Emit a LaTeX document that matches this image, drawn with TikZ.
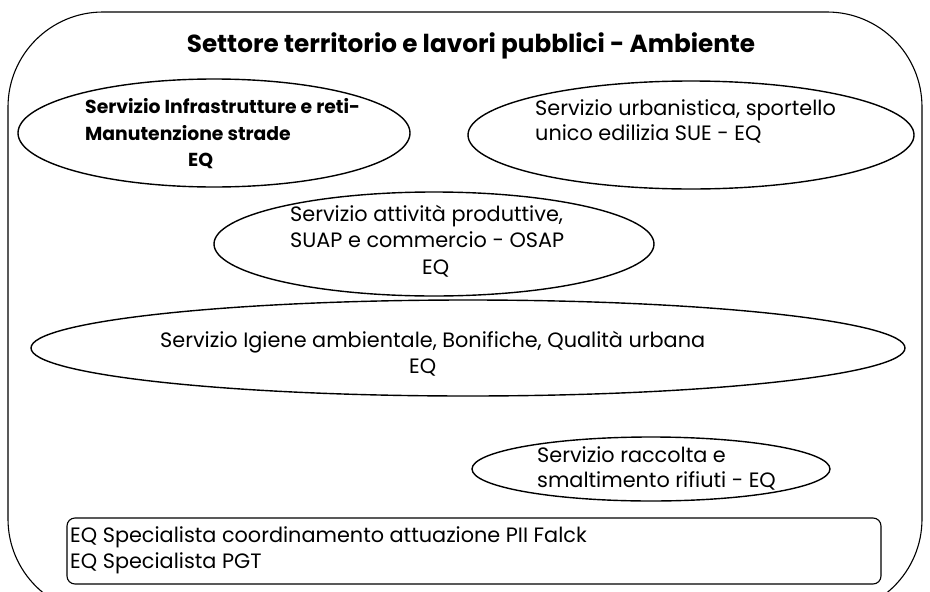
\documentclass[tikz,border=0pt]{standalone}
\usepackage{fontspec}
\setmainfont{Poppins}
\usetikzlibrary{shapes.geometric}
\begin{document}
\begin{tikzpicture}[x=1pt,y=-1pt,
  ell/.style={draw,ellipse,line width=1.4pt,inner sep=0pt},
  txt/.style={anchor=base west,inner sep=0pt,font=\fontsize{20.8}{24}\selectfont},
  btxt/.style={anchor=base west,inner sep=0pt,font=\fontsize{18.8}{24}\selectfont\bfseries}]
\useasboundingbox (0,0) rectangle (930,592);
\clip (0,0) rectangle (930,592);
\draw[line width=1.1pt,rounded corners=95pt] (8,12) rectangle (922,614);
\node[anchor=base,inner sep=0pt,font=\fontsize{24.7}{28}\selectfont\bfseries] (title) at (471,52) {Settore territorio e lavori pubblici - Ambiente};
% ellipse 1
\node[ell,minimum width=392pt,minimum height=108pt] (e1) at (214,133) {};
\node[btxt] (t1a) at (85,113) {Servizio Infrastrutture e reti-};
\node[btxt] (t1b) at (85,140) {Manutenzione strade};
\node[btxt] (t1c) at (188,166) {EQ};
% ellipse 2
\node[ell,minimum width=446pt,minimum height=108pt] (e2) at (691,135) {};
\node[txt] (t2a) at (535,115) {Servizio urbanistica, sportello};
\node[txt] (t2b) at (535,140) {unico edilizia SUE - EQ};
% ellipse 3
\node[ell,minimum width=440pt,minimum height=104pt] (e3) at (434,244) {};
\node[txt] (t3a) at (290,221) {Servizio attività produttive,};
\node[txt] (t3b) at (290,247) {SUAP e commercio - OSAP};
\node[txt] (t3c) at (422,274) {EQ};
% ellipse 4
\node[ell,minimum width=874pt,minimum height=96pt] (e4) at (468,348) {};
\node[txt] (t4a) at (160,347) {Servizio Igiene ambientale, Bonifiche, Qualità urbana};
\node[txt] (t4b) at (409,373) {EQ};
% ellipse 5
\node[ell,minimum width=358pt,minimum height=64pt] (e5) at (651,469) {};
\node[txt] (t5a) at (537,462) {Servizio raccolta e};
\node[txt] (t5b) at (537,487) {smaltimento rifiuti - EQ};
% bottom box
\node[draw,line width=1.1pt,rounded corners=8pt,minimum width=814pt,minimum height=66pt,inner sep=0pt] (box) at (474,551) {};
\node[txt] (t6a) at (70,542) {EQ Specialista coordinamento attuazione PII Falck};
\node[txt] (t6b) at (70,568) {EQ Specialista PGT};
\end{tikzpicture}
\end{document}
